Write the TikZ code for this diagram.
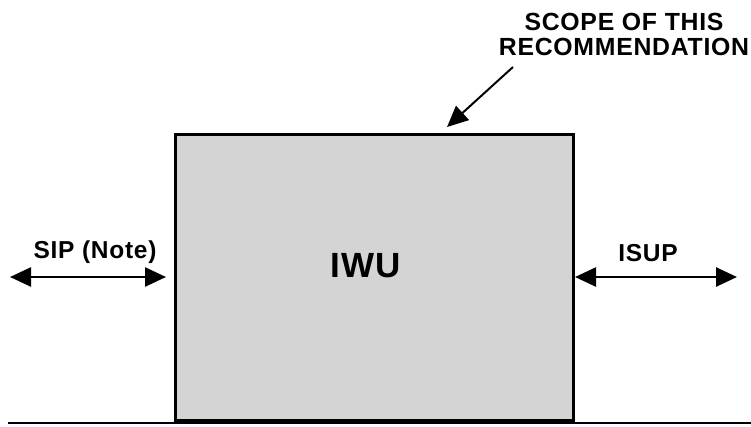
\documentclass[tikz,border=0pt]{standalone}
\usepackage{fontspec}
\setmainfont{Liberation Sans}
\newfontfamily\lblfont[LetterSpace=3]{Liberation Sans}
\usetikzlibrary{arrows.meta}
\begin{document}
\begin{tikzpicture}[x=1pt,y=-1pt,
  lbl/.style={font=\lblfont\bfseries\fontsize{24.5}{28}\selectfont, inner sep=0pt, align=center},
  dblarrow/.style={line width=2.6pt, {Triangle[length=21pt,width=19pt]}-{Triangle[length=21pt,width=19pt]}},
  onearrow/.style={line width=2pt, -{Triangle[length=21pt,width=19pt]}},
  unit/.style={draw, line width=2.8pt, fill={rgb,255:red,212;green,212;blue,212}, inner sep=0pt}]
  \useasboundingbox (0,0) rectangle (751,426);

  % interworking unit
  \node[unit, minimum width=398pt, minimum height=286pt, anchor=north west] (iwu) at (174,133) {};
  \node[font=\lblfont\bfseries\fontsize{35}{40}\selectfont, inner sep=0pt] (iwulbl) at (366,266) {IWU};

  % SIP side
  \coordinate (sipend) at (10,277);
  \coordinate (sipin) at (166,277);
  \draw[dblarrow] (sipend) -- (sipin);
  \node[lbl] (sip) at (95,252.5) {SIP (Note)};

  % ISUP side
  \coordinate (isupin) at (575,277);
  \coordinate (isupend) at (737,277);
  \draw[dblarrow] (isupin) -- (isupend);
  \node[lbl] (isup) at (648,253) {ISUP};

  % scope label
  \node[lbl, font=\lblfont\bfseries\fontsize{24.8}{25}\selectfont] (scope) at (624,34) {SCOPE OF THIS\\RECOMMENDATION};
  \coordinate (scopetail) at (513,67);
  \coordinate (scopehead) at (447,127);
  \draw[onearrow] (scopetail) -- (scopehead);

  % base line
  \coordinate (basel) at (8,423);
  \coordinate (baser) at (751,423);
  \draw[line width=1.5pt] (basel) -- (baser);
\end{tikzpicture}
\end{document}
